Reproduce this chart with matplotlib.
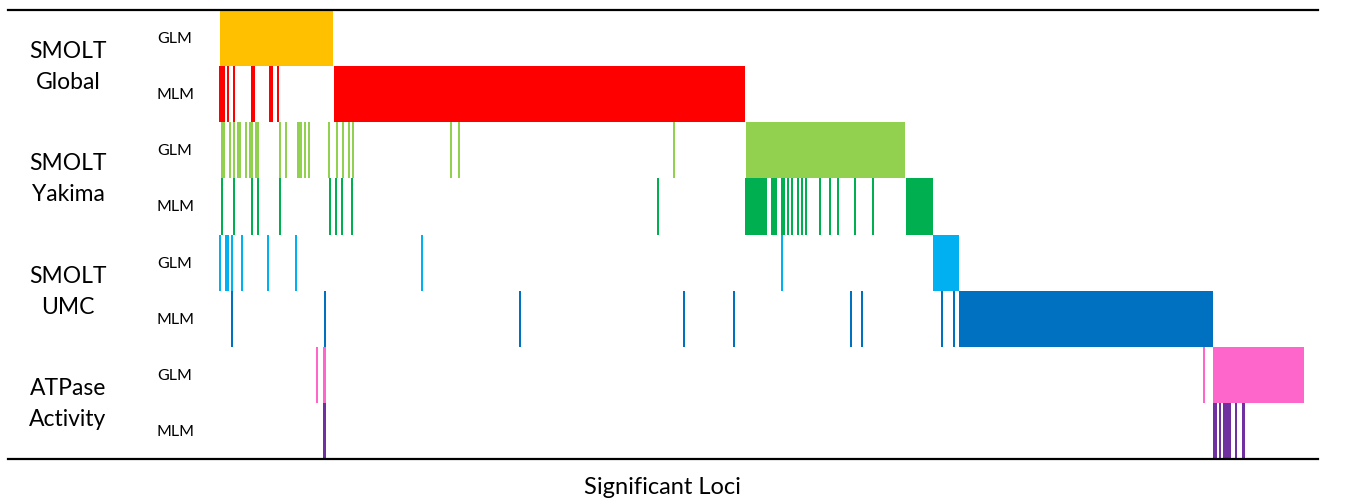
import matplotlib
matplotlib.use("Agg")
import matplotlib.pyplot as plt

# Groups and model rows
groups = ["SMOLT\nGlobal", "SMOLT\nYakima", "SMOLT\nUMC", "ATPase\nActivity"]
models = ["GLM", "MLM"]
colors = ["#FFC000", "#FF0000", "#92D050", "#00B050",
          "#00B0F0", "#0070C0", "#FF66CC", "#7030A0"]

# Significant loci spans (start, end) in locus index, one list per row
global_glm = [(0, 113)]
global_mlm = [(-1, 5), (7, 9), (13, 15), (31, 35), (49, 53), (57, 59), (114, 525)]
yakima_glm = [(1, 5), (9, 11), (13, 15), (17, 21), (25, 27), (29, 33), (35, 39),
              (59, 61), (65, 67), (77, 82), (84, 86), (88, 90), (108, 110),
              (116, 118), (122, 124), (128, 130), (132, 134), (230, 232),
              (238, 240), (453, 455), (526, 685)]
yakima_mlm = [(1, 3), (13, 15), (31, 33), (37, 39), (59, 61), (109, 111),
              (115, 117), (121, 123), (131, 133), (437, 439), (525, 547),
              (551, 557), (561, 565), (567, 569), (571, 573), (577, 579),
              (581, 583), (585, 587), (599, 601), (609, 611), (617, 619),
              (634, 636), (652, 654), (686, 713)]
umc_glm = [(-1, 1), (5, 9), (11, 13), (21, 23), (47, 49), (75, 77), (201, 203),
           (561, 563), (713, 739)]
umc_mlm = [(11, 13), (104, 106), (299, 301), (463, 465), (513, 515), (630, 632),
           (641, 643), (721, 723), (733, 735), (739, 993)]
atpase_glm = [(96, 98), (103, 106), (983, 985), (993, 1084)]
atpase_mlm = [(103, 106), (993, 997), (999, 1001), (1003, 1011), (1015, 1017),
              (1022, 1025)]

rows = [global_glm, global_mlm, yakima_glm, yakima_mlm,
        umc_glm, umc_mlm, atpase_glm, atpase_mlm]

W, H = 1347, 502
fig = plt.figure(figsize=(W / 100, H / 100), dpi=100)
ax = fig.add_axes([8 / W, 1 - 460 / H, (1318 - 8) / W, (460 - 11) / H])

for i, (spans, c) in enumerate(zip(rows, colors)):
    bars = [(s, e - s) for s, e in spans]
    ax.broken_barh(bars, (i, 1), facecolors=c, edgecolor="none")

ax.set_xlim(-212, 1098)
ax.set_ylim(len(rows), 0)
for s in ["left", "right"]:
    ax.spines[s].set_visible(False)
for s in ["top", "bottom"]:
    ax.spines[s].set_linewidth(1.6)
    ax.spines[s].set_color("black")
ax.set_xticks([])
ax.set_yticks([])

font = "Lato"
for g, name in enumerate(groups):
    ax.text(-152, 2 * g + 1, name, ha="center", va="center", fontsize=16.5,
            family=font, linespacing=1.6, color="black")
    for m, mname in enumerate(models):
        ax.text(-45, 2 * g + m + 0.5, mname, ha="center", va="center",
                fontsize=11.5, family=font, color="black")

fig.text(662 / W, 1 - 488 / H, "Significant Loci", ha="center", va="center",
         fontsize=17, family=font)

fig.savefig("out.png", dpi=100)
